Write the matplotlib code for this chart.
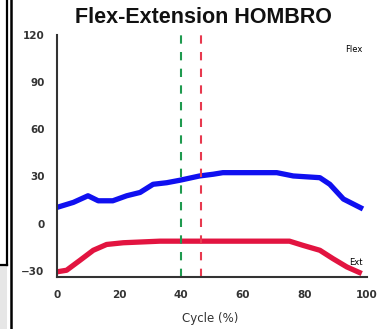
import matplotlib
matplotlib.use("Agg")
import matplotlib.pyplot as plt
from matplotlib.lines import Line2D
from matplotlib.patches import Rectangle

title = "Flex-Extension HOMBRO"
xlabel = "Cycle (%)"
xticks = [0, 20, 40, 60, 80, 100]
yticks = [-30, 0, 30, 60, 90, 120]

flex_x = [0, 5.3, 10, 13.3, 18, 22.5, 26.8, 31, 35.4, 39.7, 46, 50.4, 53.5, 60, 70.9, 76.2, 84.8, 88, 92.4, 97.7, 98.7]
flex_y = [10.3, 13.5, 17.7, 14.5, 14.5, 17.7, 19.8, 25, 26, 27.6, 30.3, 31.4, 32.4, 32.4, 32.4, 30.3, 29.2, 25, 15.6, 10.3, 9.3]

ext_x = [0, 3.1, 7.4, 11.7, 16, 21.4, 33.2, 40, 50, 60, 75, 79.4, 84.8, 89, 93.5, 98.3]
ext_y = [-30.7, -29.7, -23.4, -17, -13.3, -12.2, -11.2, -11.2, -11.2, -11.2, -11.2, -13.9, -17, -22.3, -27.6, -31.8]

green_vline = 40
red_vline = 46.5

fig = plt.figure(figsize=(3.78, 3.29), dpi=100)
fig.patch.set_facecolor("white")

# frame remnants at left edge
fig.add_artist(Rectangle((0, 0), 7/378, (329-265)/329, transform=fig.transFigure,
                         facecolor="#e6e6e6", edgecolor="none"))
fig.add_artist(Line2D([6.5/378, 6.5/378], [1, (329-265)/329], transform=fig.transFigure, color="black", lw=1.6))
fig.add_artist(Line2D([0, 6.5/378], [(329-265)/329, (329-265)/329], transform=fig.transFigure, color="black", lw=1.6))
fig.add_artist(Line2D([10.5/378, 10.5/378], [0, 1], transform=fig.transFigure, color="black", lw=1.8))

ax = fig.add_axes([57/378, (329-277)/329, (367-57)/378, (277-35)/329])
ax.plot(flex_x, flex_y, color="#1010f0", lw=3.8, solid_capstyle="butt")
ax.plot(ext_x, ext_y, color="#e21440", lw=3.8, solid_capstyle="butt")
ax.axvline(green_vline, color="#1f9a4f", lw=1.5, ls=(0, (4, 4)))
ax.axvline(red_vline, color="#e8394f", lw=1.5, ls=(0, (4, 4)))

ax.set_xlim(0, 100)
ax.set_ylim(-34, 120)
ax.set_xticks(xticks)
ax.set_yticks(yticks)
for s in ["top", "right"]:
    ax.spines[s].set_visible(False)
for s in ["left", "bottom"]:
    ax.spines[s].set_color("#333333")
    ax.spines[s].set_linewidth(1.5)
ax.tick_params(length=0, labelsize=7.5, pad=9, colors="#333333")
for lab in ax.get_xticklabels() + ax.get_yticklabels():
    lab.set_fontweight("bold")

ax.text(0.985, 0.94, "Flex", transform=ax.transAxes, fontsize=6, ha="right", va="center")
ax.text(0.985, 0.06, "Ext", transform=ax.transAxes, fontsize=6, ha="right", va="center")

fig.text(0.538, 0.948, title, fontsize=15.5, fontweight="bold", ha="center", va="center",
         family="Liberation Sans", color="#111111")
fig.text(0.555, 0.033, xlabel, fontsize=8.5, ha="center", va="center", color="#333333")

fig.savefig("out.png", dpi=100)
